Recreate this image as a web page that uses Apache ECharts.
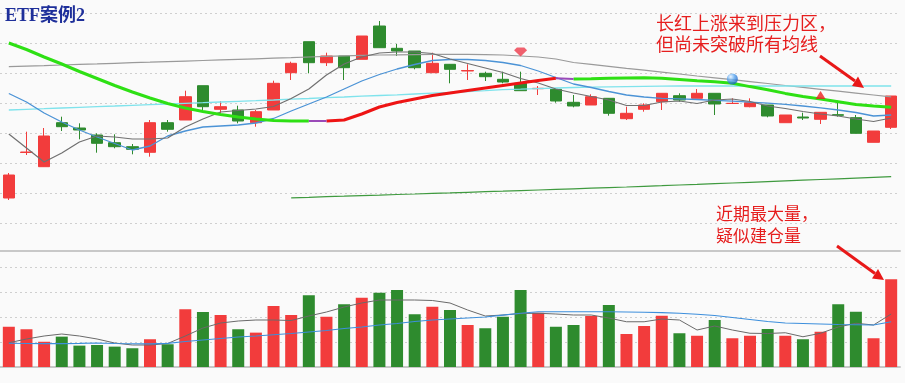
<!DOCTYPE html>
<html><head><meta charset="utf-8">
<script src="https://cdn.jsdelivr.net/npm/echarts@6/dist/echarts.min.js"></script>
<style>html,body{margin:0;padding:0;background:#fafafa}#c{width:905px;height:383px}</style>
</head><body><div id="c"></div>
<script>
const categories = ['1','2','3','4','5','6','7','8','9','10','11','12','13','14','15','16','17','18','19','20','21','22','23','24','25','26','27','28','29','30','31','32','33','34','35','36','37','38','39','40','41','42','43','44','45','46','47','48','49','50','51'];
// [open, close, low, high]
const candles = [
[1.0253,1.0483,1.0233,1.0503],[1.0708,1.0713,1.0683,1.0916],[1.0566,1.0873,1.0563,1.0953],[1.1006,1.0966,1.0923,1.1066],
[1.0953,1.0933,1.0840,1.1000],[1.0883,1.0800,1.0706,1.0900],[1.0806,1.0766,1.0750,1.0890],[1.0766,1.0740,1.0690,1.0793],
[1.0710,1.1006,1.0666,1.1033],[1.1006,1.0940,1.0916,1.1033],[1.1033,1.1266,1.1033,1.1326],[1.1376,1.1166,1.1116,1.1376],
[1.1140,1.1166,1.1100,1.1223],[1.1133,1.1023,1.1000,1.1176],[1.1006,1.1116,1.0966,1.1133],[1.1133,1.1400,1.1133,1.1426],
[1.1506,1.1600,1.1433,1.1616],[1.1816,1.1606,1.1500,1.1816],[1.1606,1.1673,1.1573,1.1706],[1.1673,1.1556,1.1433,1.1673],
[1.1640,1.1873,1.1640,1.1873],[1.1973,1.1756,1.1753,1.2023],[1.1750,1.1723,1.1673,1.1793],[1.1723,1.1556,1.1540,1.1723],
[1.1506,1.1600,1.1506,1.1706],[1.1590,1.1540,1.1400,1.1593],[1.1523,1.1528,1.1433,1.1590],[1.1500,1.1466,1.1423,1.1516],
[1.1440,1.1413,1.1400,1.1516],[1.1400,1.1326,1.1326,1.1516],[1.1346,1.1350,1.1283,1.1373],[1.1340,1.1223,1.1206,1.1343],
[1.1210,1.1173,1.1160,1.1283],[1.1183,1.1266,1.1183,1.1290],[1.1250,1.1100,1.1076,1.1253],[1.1046,1.1100,1.1033,1.1166],
[1.1140,1.1183,1.1116,1.1200],[1.1216,1.1300,1.1133,1.1303],[1.1276,1.1233,1.1216,1.1300],[1.1250,1.1300,1.1250,1.1343],
[1.1300,1.1193,1.1083,1.1300],[1.1198,1.1200,1.1193,1.1250],[1.1166,1.1206,1.1160,1.1250],[1.1183,1.1073,1.1060,1.1183],
[1.1006,1.1083,1.1006,1.1083],[1.1063,1.1053,1.1033,1.1106],[1.1040,1.1110,1.0993,1.1113],[1.1086,1.1080,1.1066,1.1226],
[1.1056,1.0900,1.0900,1.1083],[1.0810,1.0923,1.0810,1.0923],[1.0960,1.1273,1.0943,1.1273]
];
const ma5 = [1.0893,1.0753,1.0613,1.0703,1.0813,1.0873,1.0863,1.0843,1.0843,1.0853,1.0963,1.1043,1.1113,1.1128,1.1143,1.1168,1.1248,1.1343,1.1483,1.1593,1.1663,1.1703,1.1713,1.1713,1.1698,1.1643,1.1598,1.1553,1.1508,1.1448,1.1403,1.1343,1.1303,1.1268,1.1233,1.1178,1.1178,1.1213,1.1223,1.1198,1.1233,1.1243,1.1218,1.1173,1.1148,1.1118,1.1093,1.1073,1.1043,1.1018,1.1053];
const ma10 = [1.1298,1.1213,1.1103,1.1013,1.0933,1.0863,1.0798,1.0733,1.0773,1.0873,1.0923,1.0963,1.0973,1.0983,1.1003,1.1048,1.1123,1.1193,1.1263,1.1343,1.1423,1.1488,1.1543,1.1588,1.1628,1.1638,1.1638,1.1628,1.1608,1.1578,1.1523,1.1458,1.1393,1.1358,1.1318,1.1283,1.1263,1.1250,1.1245,1.1238,1.1230,1.1221,1.1211,1.1201,1.1189,1.1173,1.1155,1.1133,1.1108,1.1073,1.1083];
const ma30 = [1.1803,1.1738,1.1663,1.1593,1.1518,1.1448,1.1378,1.1313,1.1253,1.1198,1.1153,1.1118,1.1088,1.1063,1.1043,1.1028,1.1023,1.1023,1.1023,1.1033,1.1093,1.1163,1.1208,1.1243,1.1278,1.1303,1.1328,1.1353,1.1378,1.1403,1.1428,1.1450,1.1443,1.1446,1.1450,1.1453,1.1455,1.1450,1.1438,1.1426,1.1415,1.1401,1.1367,1.1336,1.1299,1.1268,1.1243,1.1216,1.1189,1.1173,1.1160];
// index ranges of the ma30 colour segments: falling, turning, rising, turning, falling
const ma30Breaks = [17, 18, 31, 32];
const ma60 = [1.1133,1.1140,1.1146,1.1153,1.1160,1.1167,1.1173,1.1180,1.1187,1.1193,1.1200,1.1206,1.1213,1.1220,1.1226,1.1233,1.1241,1.1248,1.1256,1.1263,1.1271,1.1278,1.1285,1.1293,1.1301,1.1308,1.1318,1.1326,1.1336,1.1341,1.1347,1.1353,1.1358,1.1361,1.1364,1.1367,1.1369,1.1371,1.1373,1.1373,1.1373,1.1373,1.1373,1.1373,1.1373,1.1373,1.1373,1.1373,1.1373,1.1373,1.1373];
const ma120 = [1.1566,1.1572,1.1577,1.1583,1.1589,1.1594,1.1600,1.1606,1.1611,1.1617,1.1622,1.1628,1.1634,1.1639,1.1645,1.1651,1.1656,1.1663,1.1670,1.1675,1.1680,1.1683,1.1685,1.1687,1.1689,1.1690,1.1690,1.1687,1.1683,1.1673,1.1663,1.1643,1.1608,1.1589,1.1570,1.1550,1.1531,1.1512,1.1493,1.1473,1.1455,1.1436,1.1417,1.1398,1.1378,1.1359,1.1340,1.1321,1.1302,1.1283,1.1264];
const ma250 = [null,null,null,null,null,null,null,null,null,null,null,null,null,null,null,null,1.0255,1.0260,1.0266,1.0271,1.0277,1.0282,1.0288,1.0293,1.0299,1.0304,1.0310,1.0316,1.0321,1.0327,1.0333,1.0339,1.0345,1.0351,1.0357,1.0363,1.0370,1.0376,1.0383,1.0389,1.0396,1.0403,1.0410,1.0417,1.0424,1.0431,1.0438,1.0445,1.0452,1.0459,1.0466];
const volumes = [32.2,30.2,20.2,24.3,17.1,17.6,16.3,15.0,22.2,18.2,46.2,44.0,41.6,30.2,27.5,48.8,41.6,57.4,40.2,50.2,55.4,59.4,61.6,42.2,48.2,45.6,33.6,31.0,40.2,61.6,43.4,32.2,33.6,40.8,49.6,26.4,32.8,41.0,27.0,25.0,37.6,23.0,25.0,30.4,25.0,22.2,28.2,50.2,44.2,23.0,70.2];
const volMa5 = [19.4,22.4,24.8,26.4,24.8,22.4,19.2,17.6,17.6,18.8,24.8,31.2,35.2,36.8,37.6,37.6,37.2,40.8,44.0,48.0,51.2,53.6,53.6,53.6,53.2,51.2,45.6,40.8,41.6,42.8,43.0,42.4,41.6,41.6,39.2,36.2,36.2,38.4,37.6,29.6,32.8,29.6,27.0,26.8,27.4,24.2,27.0,32.0,35.0,33.6,42.4];
const volMa10 = [19.0,18.8,18.7,18.7,18.9,19.2,18.8,18.6,18.5,18.9,20.4,21.6,22.8,24.0,24.8,25.8,26.8,28.0,29.2,30.8,32.0,33.6,34.8,36.4,37.6,38.4,39.2,40.0,41.5,43.0,44.2,44.2,44.2,44.2,44.2,44.0,43.8,43.5,43.0,42.2,41.2,39.6,38.0,36.4,35.2,34.8,34.4,34.0,33.8,33.6,36.2];
// signal markers: [index, price]
const gemMark = [29, 1.1713];
const ballMark = [41, 1.1443];
const triMark = [46, 1.1283];

const RED = '#f23c3c', GREEN = '#2e8b2e';
function seg(arr, a, b){ return arr.map((v,i)=> (i>=a && i<=b) ? v : null); }
const n = ma30.length;
const ma30Green1 = seg(ma30, 0, ma30Breaks[0]);
const ma30Purple = ma30.map((v,i)=> ((i>=ma30Breaks[0]&&i<=ma30Breaks[1])||(i>=ma30Breaks[2]&&i<=ma30Breaks[3])) ? v : null);
const ma30Red = seg(ma30, ma30Breaks[1], ma30Breaks[2]);
const ma30Green2 = seg(ma30, ma30Breaks[3], n-1);
const volData = volumes.map((v,i)=>({value:v, itemStyle:{color: candles[i][1] >= candles[i][0] ? RED : GREEN}}));

const chart = echarts.init(document.getElementById('c'), null, {renderer:'canvas'});
const lineBase = {type:'line', showSymbol:false, symbol:'none', silent:true, connectNulls:false, z:3};
chart.setOption({
  animation:false,
  backgroundColor:'#fafafa',
  grid:[
    {left:-3, width:903, top:13.3, height:210},
    {left:-3, width:903, top:251, height:116}
  ],
  xAxis:[
    {type:'category', gridIndex:0, data:categories, axisLine:{show:false}, axisTick:{show:false}, axisLabel:{show:false}, splitLine:{show:false}},
    {type:'category', gridIndex:1, data:categories, axisLine:{show:true, lineStyle:{color:'#c8c8c8', width:2}}, axisTick:{show:false}, axisLabel:{show:false}},
    {type:'category', gridIndex:1, position:'top', data:categories, axisLine:{show:true, lineStyle:{color:'#c8c8c8', width:2}}, axisTick:{show:false}, axisLabel:{show:false}}
  ],
  yAxis:[
    {type:'value', gridIndex:0, min:1.00, max:1.21, interval:0.03, axisLine:{show:false}, axisTick:{show:false}, axisLabel:{show:false},
     splitLine:{show:true, lineStyle:{color:'#cfcfcf', type:[2,3], width:1}}},
    {type:'value', gridIndex:1, min:0, max:92.8, interval:20, axisLine:{show:false}, axisTick:{show:false}, axisLabel:{show:false},
     splitLine:{show:true, lineStyle:{color:'#cfcfcf', type:[2,3], width:1}}}
  ],
  series:[
    {type:'candlestick', xAxisIndex:0, yAxisIndex:0, data:candles, barWidth:12, z:2,
     itemStyle:{color:RED, color0:GREEN, borderColor:RED, borderColor0:GREEN, borderWidth:1}},
    Object.assign({}, lineBase, {data:ma120, lineStyle:{color:'#9a9a9a', width:1.2}}),
    Object.assign({}, lineBase, {data:ma60, lineStyle:{color:'#7fe3ec', width:1.3}}),
    Object.assign({}, lineBase, {data:ma250, lineStyle:{color:'#3f9a3f', width:1.2}}),
    Object.assign({}, lineBase, {data:ma10, lineStyle:{color:'#4b93d6', width:1.3}}),
    Object.assign({}, lineBase, {data:ma5, lineStyle:{color:'#707070', width:1.2}}),
    Object.assign({}, lineBase, {data:ma30Green1, z:4, lineStyle:{color:'#2ee014', width:3}}),
    Object.assign({}, lineBase, {data:ma30Green2, z:4, lineStyle:{color:'#2ee014', width:3}}),
    Object.assign({}, lineBase, {data:ma30Red, z:4, lineStyle:{color:'#ee1414', width:3}}),
    Object.assign({}, lineBase, {data:ma30Purple, z:4, lineStyle:{color:'#9a4ab8', width:2}}),
    {type:'scatter', xAxisIndex:0, yAxisIndex:0, z:6, silent:true,
     data:[{value:gemMark, symbol:'path://M0,3 L3,0 L11,0 L14,3 L7,10 Z', symbolSize:[13,9], itemStyle:{color:'#ee3b4b'}},
           {value:ballMark, symbol:'circle', symbolSize:11, itemStyle:{color:new echarts.graphic.RadialGradient(0.35,0.3,0.7,[{offset:0,color:'#e8f4ff'},{offset:0.5,color:'#5aa6f0'},{offset:1,color:'#1d63c4'}])}},
           {value:triMark, symbol:'triangle', symbolSize:[10,8], itemStyle:{color:'#ee2020'}}]},
    {type:'bar', xAxisIndex:1, yAxisIndex:1, data:volData, barWidth:12, z:2},
    Object.assign({}, lineBase, {xAxisIndex:1, yAxisIndex:1, data:volMa5, lineStyle:{color:'#6a6a6a', width:1}}),
    Object.assign({}, lineBase, {xAxisIndex:1, yAxisIndex:1, data:volMa10, lineStyle:{color:'#3d8fdc', width:1.2}})
  ],
  graphic:[
    {type:'text', left:5, top:7, z:10, style:{text:'ETF案例2', font:'bold 18px "Liberation Serif", "Noto Sans CJK SC"', fill:'#1e2f9a'}},
    {type:'text', left:656, top:13, z:10, style:{text:'长红上涨来到压力区，\n但尚未突破所有均线', font:'18px "Noto Sans CJK SC"', lineHeight:21, fill:'#e61e1e'}},
    {type:'text', left:716, top:203, z:10, style:{text:'近期最大量，\n疑似建仓量', font:'17px "Noto Sans CJK SC"', lineHeight:22, fill:'#e61e1e'}},
    {type:'line', z:10, shape:{x1:820, y1:56, x2:855, y2:81}, style:{stroke:'#e81818', lineWidth:3}},
    {type:'polygon', z:10, shape:{points:[[864,88],[852,86],[858,76.5]]}, style:{fill:'#e81818'}},
    {type:'line', z:10, shape:{x1:837, y1:246, x2:875, y2:273.5}, style:{stroke:'#e81818', lineWidth:3}},
    {type:'polygon', z:10, shape:{points:[[884,280],[872,278.5],[878,269]]}, style:{fill:'#e81818'}}
  ]
});
</script></body></html>
